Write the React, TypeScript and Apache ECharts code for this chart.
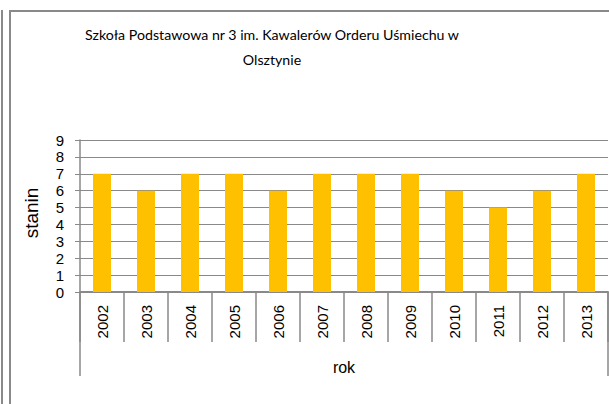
import React, { useEffect, useRef } from "react";
import * as echarts from "echarts";

const years = ["2002", "2003", "2004", "2005", "2006", "2007", "2008", "2009", "2010", "2011", "2012", "2013"];
const stanin = [7, 6, 7, 7, 6, 7, 7, 7, 6, 5, 6, 7];
const groupLabels = ["rok"];
const titleText = "Szkoła Podstawowa nr 3 im. Kawalerów Orderu Uśmiechu w\nOlsztynie";
const yAxisName = "stanin";

const GRAY = "#898989";
const FONT = "Liberation Sans, Arial, sans-serif";
const TITLE_FONT = "Lato, sans-serif";

export default function App() {
  const ref = useRef<HTMLDivElement>(null);
  useEffect(() => {
    if (!ref.current) return;
    const chart = echarts.init(ref.current, undefined, { renderer: "svg" });
    chart.setOption({
      animation: false,
      title: {
        text: titleText,
        left: 272,
        top: 22,
        padding: 0,
        textAlign: "center",
        textStyle: { fontSize: 14.2, fontWeight: "normal", color: "#000", lineHeight: 25, fontFamily: TITLE_FONT },
      },
      graphic: [
        {
          type: "text",
          x: 31,
          y: 213,
          rotation: Math.PI / 2,
          style: { text: yAxisName, fontSize: 19, fontFamily: FONT, fill: "#000", textAlign: "center", textVerticalAlign: "middle" },
        },
      ],
      grid: { left: 80, top: 140, width: 528, height: 152, containLabel: false },
      xAxis: [
        {
          type: "category",
          data: years,
          position: "bottom",
          axisLine: { show: true, lineStyle: { color: GRAY, width: 2 } },
          axisTick: { show: true, length: 50, interval: 0, lineStyle: { color: GRAY, width: 1.5 } },
          axisLabel: { rotate: 90, margin: 13, interval: 0, fontSize: 15, color: "#000", fontFamily: FONT },
          splitLine: { show: false },
        },
        {
          type: "category",
          data: groupLabels,
          position: "bottom",
          offset: 0,
          axisLine: { show: false },
          axisTick: { show: true, length: 84, alignWithLabel: false, lineStyle: { color: GRAY, width: 1.5 } },
          axisLabel: { margin: 67, fontSize: 16, color: "#000", fontFamily: FONT },
          splitLine: { show: false },
        },
      ],
      yAxis: {
        type: "value",
        min: 0,
        max: 9,
        interval: 1,
        axisLine: { show: true, lineStyle: { color: GRAY, width: 1.5 } },
        axisTick: { show: true, length: 5, lineStyle: { color: GRAY } },
        axisLabel: { margin: 16, fontSize: 15, color: "#000", fontFamily: FONT },
        splitLine: { show: true, lineStyle: { color: GRAY, width: 1 } },
      },
      series: [
        {
          type: "bar",
          data: stanin,
          xAxisIndex: 0,
          barWidth: 18,
          itemStyle: { color: "#FFC000" },
        },
      ],
    });
    return () => chart.dispose();
  }, []);
  return (
    <div style={{ position: "fixed", left: 0, top: 0, width: 609, height: 404, background: "#fff", overflow: "hidden" }}>
      <div style={{ position: "absolute", left: 1, top: 10, width: 2, height: 394, background: GRAY }} />
      <div style={{ position: "absolute", left: 9, top: 10, width: 600, height: 2, background: GRAY }} />
      <div style={{ position: "absolute", left: 9, top: 10, width: 2, height: 394, background: GRAY }} />
      <div ref={ref} style={{ position: "absolute", left: 0, top: 0, width: 609, height: 404 }} />
    </div>
  );
}
